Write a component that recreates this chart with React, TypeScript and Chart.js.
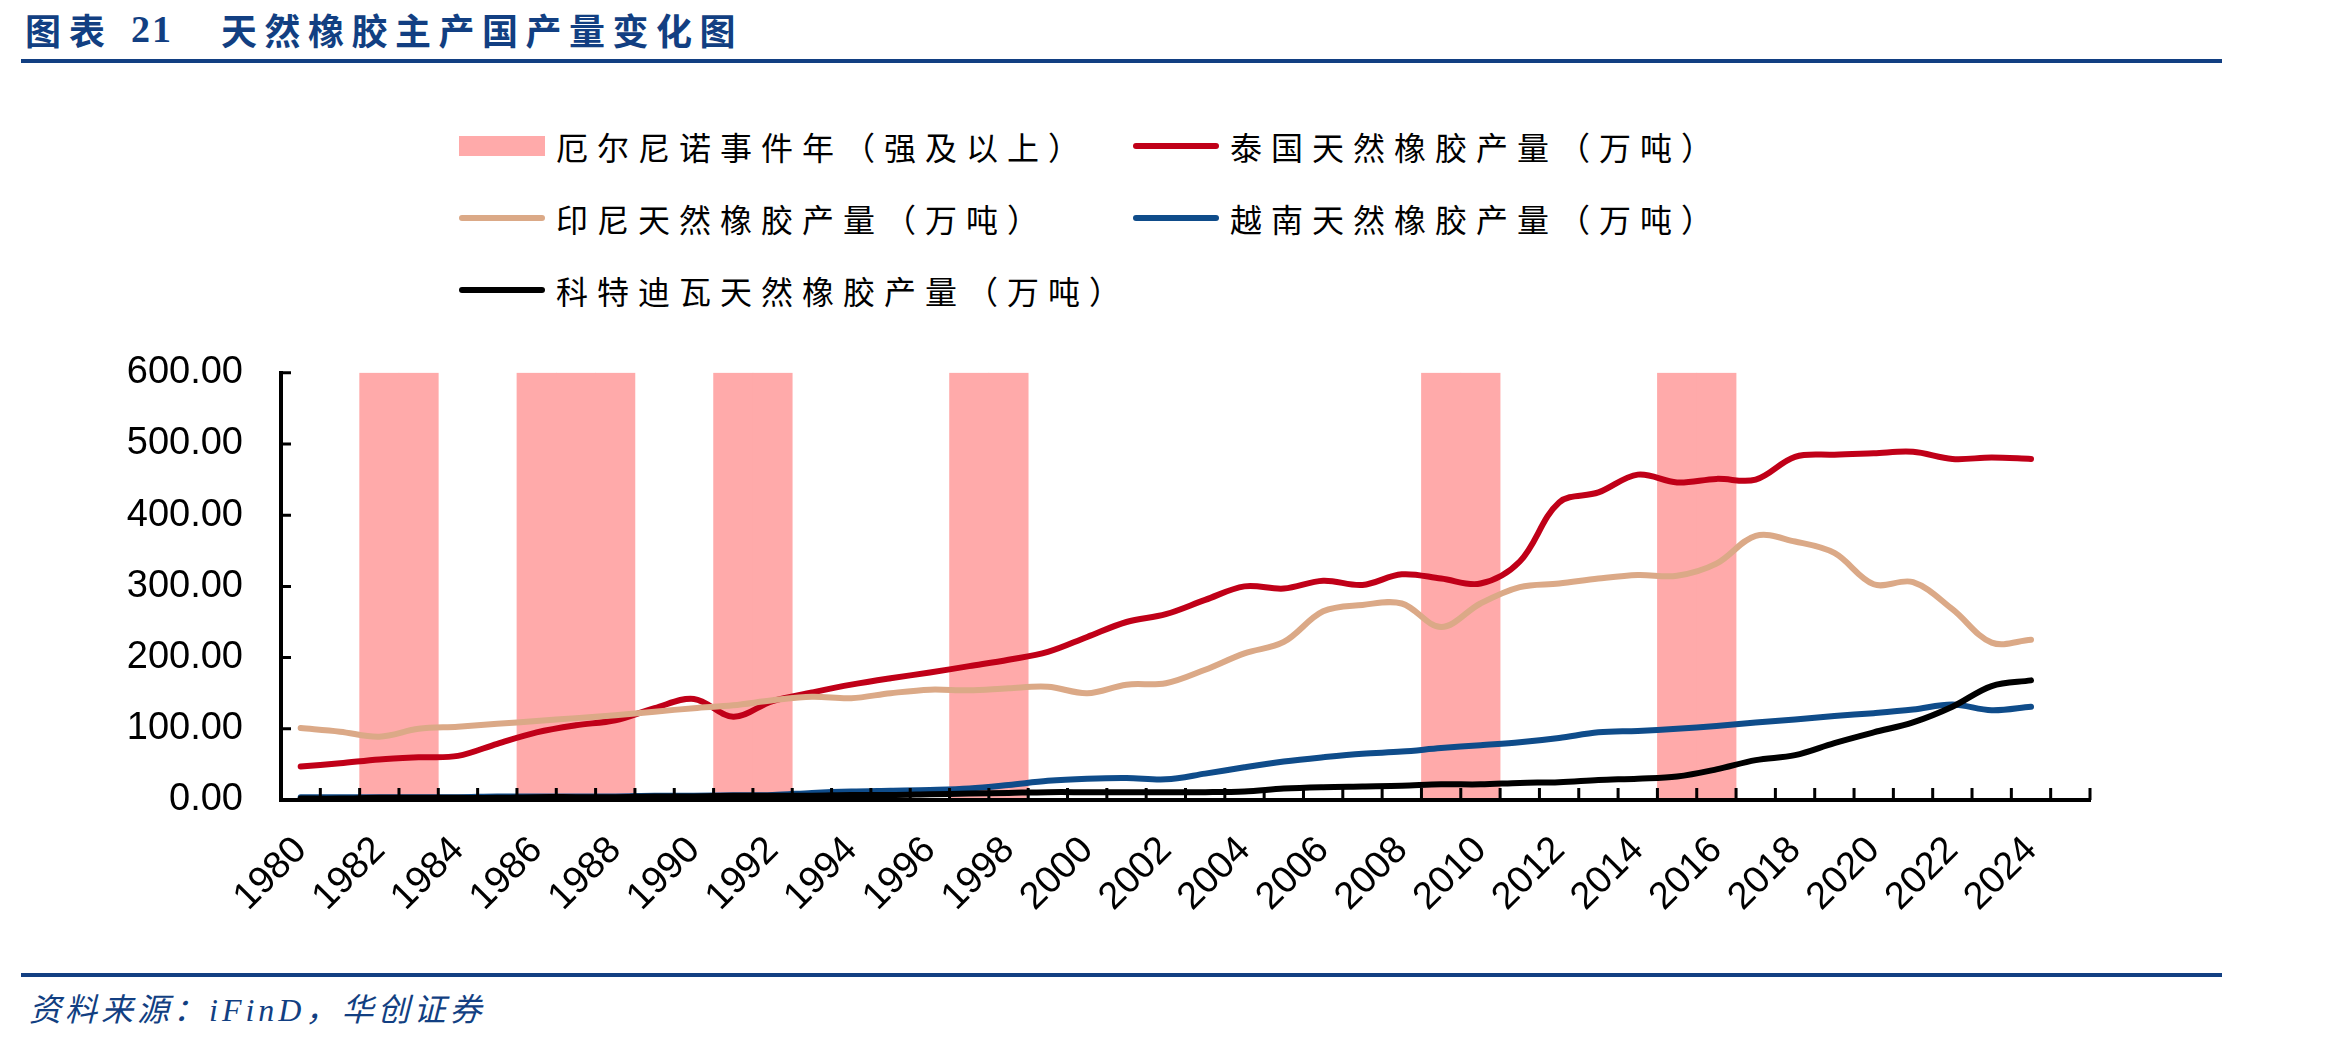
import React, { useEffect, useRef } from 'react';
import { Chart, registerables } from 'chart.js';

Chart.register(...registerables);

// Categories: one per year, the last year has no data yet
const years: string[] = [
  '1980', '1981', '1982', '1983', '1984', '1985', '1986', '1987', '1988', '1989',
  '1990', '1991', '1992', '1993', '1994', '1995', '1996', '1997', '1998', '1999',
  '2000', '2001', '2002', '2003', '2004', '2005', '2006', '2007', '2008', '2009',
  '2010', '2011', '2012', '2013', '2014', '2015', '2016', '2017', '2018', '2019',
  '2020', '2021', '2022', '2023', '2024', '2025',
];

// Strong (and above) El Niño years, shaded as full-height bands
const elNinoYears: string[] = [
  '1982', '1983', '1986', '1987', '1988', '1991', '1992', '1997', '1998', '2009', '2010', '2015', '2016',
];

// Natural rubber output, 10k tonnes
const thailand: (number | null)[] = [
  47, 51.5, 57, 60, 62, 79, 95, 105, 112, 129,
  142, 117, 139, 151, 162, 171, 179, 188, 197, 208,
  229, 250, 261, 281, 300, 297, 308, 302, 317, 311,
  304, 335, 418, 432, 457, 446, 451, 450, 482, 485,
  487, 489, 479, 481, 479, null,
];
const indonesia: (number | null)[] = [
  101, 96, 89, 100, 103, 107, 111, 115, 119, 124,
  129, 133, 140, 145, 143, 150, 155, 154, 157, 159,
  150, 162, 164, 183, 206, 222, 265, 274, 276, 243,
  276, 299, 304, 311, 316, 315, 332, 371, 363, 347,
  303, 306, 268, 221, 225, null,
];
const vietnam: (number | null)[] = [
  4, 4, 4, 4, 4, 5, 5, 5, 5, 6,
  6, 6.5, 7, 10, 12, 13, 14, 16, 21, 27,
  30, 31, 29, 37, 46, 54, 60, 65, 68, 73,
  77, 81, 87, 95, 97, 100, 104, 109, 113, 118,
  122, 127, 134, 126, 131, null,
];
const coteDIvoire: (number | null)[] = [
  2, 2, 3, 3, 3, 3, 4, 4, 4, 5,
  5, 6, 6, 6, 7, 7, 8, 9, 10, 11,
  11, 11, 11, 11, 12, 16, 18, 19, 20, 22,
  22, 24, 25, 28, 30, 33, 43, 56, 63, 80,
  95, 109, 131, 160, 168, null,
];

const yMin = 0;
const yMax = 600;
const yStep = 100;

const bandLabel = '厄尔尼诺事件年（强及以上）';
const lineLabels = [
  '泰国天然橡胶产量（万吨）',
  '印尼天然橡胶产量（万吨）',
  '越南天然橡胶产量（万吨）',
  '科特迪瓦天然橡胶产量（万吨）',
];
const lineSeries = [thailand, indonesia, vietnam, coteDIvoire];

const BAND_COLOR = '#FFAAAA';
const LINE_COLORS = ['#C00018', '#DBA987', '#0F4C8A', '#000000'];
const NAVY = '#123F82';

const TICK_FONT = { family: "'Liberation Sans', Arial, sans-serif", size: 38 };
const CJK = "'Noto Sans CJK SC', sans-serif";

// Inward tick marks on both axes (category boundaries on x, value ticks on y)
const inwardTicks = {
  id: 'inwardTicks',
  afterDatasetsDraw(chart: any) {
    const { ctx, chartArea, scales } = chart;
    const x = scales.x;
    const y = scales.y;
    ctx.save();
    ctx.strokeStyle = '#000';
    ctx.lineWidth = 3;
    ctx.beginPath();
    const n = x.ticks.length;
    for (let i = 1; i <= n; i++) {
      const px = i === n
        ? chartArea.right
        : (x.getPixelForValue(i - 1) + x.getPixelForValue(i)) / 2;
      ctx.moveTo(px, chartArea.bottom);
      ctx.lineTo(px, chartArea.bottom - 12);
    }
    y.ticks.forEach((t: any) => {
      const py = y.getPixelForValue(t.value);
      ctx.moveTo(chartArea.left, py);
      ctx.lineTo(chartArea.left + 10, py);
    });
    ctx.stroke();
    ctx.restore();
  },
};

const CANVAS_TOP = 312;
const CANVAS_W = 2327;
const CANVAS_H = 648;

function RubberChart() {
  const ref = useRef<HTMLCanvasElement | null>(null);

  useEffect(() => {
    if (!ref.current) return;
    const bandData = years.map((yr) => (elNinoYears.includes(yr) ? yMax : null));
    const chart = new Chart(ref.current, {
      type: 'bar',
      data: {
        labels: years,
        datasets: [
          ...lineSeries.map((data, i) => ({
            type: 'line' as const,
            label: lineLabels[i],
            data,
            borderColor: LINE_COLORS[i],
            backgroundColor: LINE_COLORS[i],
            borderWidth: 6,
            pointRadius: 0,
            tension: 0.35,
            borderCapStyle: 'round' as const,
            borderJoinStyle: 'round' as const,
            order: 4 - i,
          })),
          {
            type: 'bar' as const,
            label: bandLabel,
            data: bandData,
            backgroundColor: BAND_COLOR,
            borderWidth: 0,
            barPercentage: 1,
            categoryPercentage: 1,
            order: 10,
          },
        ],
      },
      options: {
        animation: false,
        responsive: false,
        maintainAspectRatio: false,
        layout: { padding: { top: 0, right: 237, bottom: 0, left: 0 } },
        plugins: { legend: { display: false }, tooltip: { enabled: false } },
        scales: {
          x: {
            type: 'category',
            offset: true,
            grid: { display: false, drawTicks: false },
            border: { display: true, color: '#000', width: 4, z: 1 },
            ticks: {
              autoSkip: false,
              minRotation: 45,
              maxRotation: 45,
              padding: 28,
              color: '#000',
              font: TICK_FONT,
              callback: (_v: any, i: number) => (i % 2 === 0 ? years[i] : ''),
            },
            afterFit: (s: any) => { s.height = 160; },
          },
          y: {
            min: yMin,
            max: yMax,
            grid: { display: false, drawTicks: false },
            border: { display: true, color: '#000', width: 4, z: 1 },
            ticks: {
              stepSize: yStep,
              padding: 38,
              color: '#000',
              font: TICK_FONT,
              callback: (v: any) => Number(v).toFixed(2),
            },
            afterFit: (s: any) => { s.width = 281; },
          },
        },
      },
      plugins: [inwardTicks],
    } as any);
    return () => chart.destroy();
  }, []);

  return <canvas ref={ref} width={CANVAS_W} height={CANVAS_H} style={{ display: 'block' }} />;
}

const LEGEND_COLS = [459, 1133];
const LEGEND_ROWS = [146, 218, 290];

function Legend() {
  const items = [
    { label: bandLabel, color: BAND_COLOR, box: true },
    ...lineLabels.map((label, i) => ({ label, color: LINE_COLORS[i], box: false })),
  ];
  return (
    <>
      {items.map((it, k) => {
        const left = LEGEND_COLS[k % 2];
        const cy = LEGEND_ROWS[Math.floor(k / 2)];
        return (
          <div
            key={it.label}
            style={{
              position: 'absolute',
              left,
              top: cy - 25,
              height: 50,
              display: 'flex',
              alignItems: 'center',
              whiteSpace: 'nowrap',
            }}
          >
            <div
              style={{
                width: 86,
                height: it.box ? 20 : 6,
                background: it.color,
                borderRadius: it.box ? 0 : 3,
                flex: '0 0 auto',
              }}
            />
            <span
              style={{
                marginLeft: 11,
                fontFamily: CJK,
                fontSize: 32,
                letterSpacing: 9,
                lineHeight: 1,
                color: '#000',
              }}
            >
              {it.label}
            </span>
          </div>
        );
      })}
    </>
  );
}

export default function App() {
  const titleStyle: React.CSSProperties = {
    position: 'absolute',
    top: 11,
    lineHeight: '36px',
    fontSize: 36,
    fontWeight: 700,
    color: NAVY,
    whiteSpace: 'nowrap',
  };
  return (
    <div
      style={{
        position: 'absolute',
        left: 0,
        top: 0,
        width: 2327,
        height: 1043,
        background: '#fff',
        overflow: 'hidden',
      }}
    >
      <span style={{ ...titleStyle, left: 25, fontFamily: CJK, letterSpacing: 8 }}>图表</span>
      <span style={{ ...titleStyle, left: 131, fontFamily: "'Liberation Serif', serif", fontSize: 38, letterSpacing: 2 }}>21</span>
      <span style={{ ...titleStyle, left: 221, fontFamily: CJK, letterSpacing: 7.5 }}>天然橡胶主产国产量变化图</span>
      <div style={{ position: 'absolute', left: 21, top: 59, width: 2201, height: 4, background: NAVY }} />

      <Legend />

      <div style={{ position: 'absolute', left: 0, top: CANVAS_TOP, width: CANVAS_W, height: CANVAS_H }}>
        <RubberChart />
      </div>

      <div style={{ position: 'absolute', left: 21, top: 973, width: 2201, height: 4, background: NAVY }} />
      <span
        style={{
          position: 'absolute',
          left: 29,
          top: 993,
          lineHeight: '34px',
          fontSize: 32,
          fontStyle: 'italic',
          letterSpacing: 4,
          color: NAVY,
          fontFamily: "'Liberation Serif', 'Noto Sans CJK SC', serif",
          whiteSpace: 'nowrap',
        }}
      >
        资料来源：iFinD，华创证券
      </span>
    </div>
  );
}
